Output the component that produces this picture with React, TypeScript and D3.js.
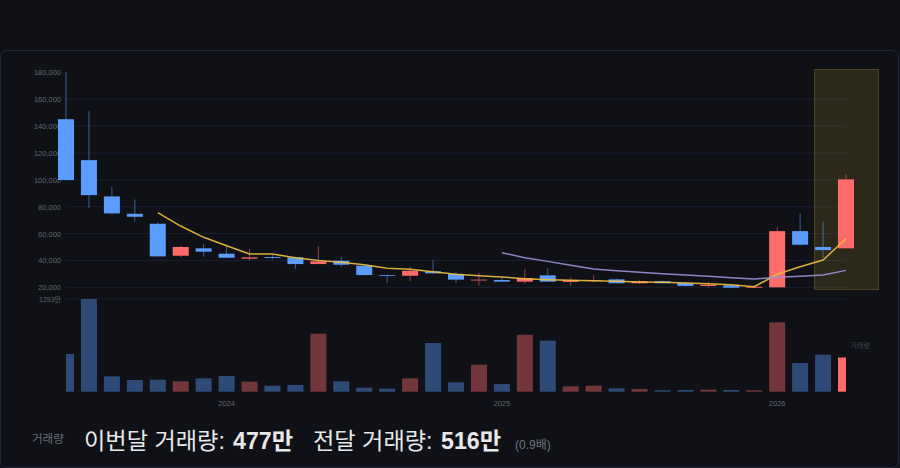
import React, {useRef, useEffect} from "react";
import * as d3 from "d3";

const months = ["2023-06","2023-07","2023-08","2023-09","2023-10","2023-11","2023-12","2024-01","2024-02","2024-03","2024-04","2024-05","2024-06","2024-07","2024-08","2024-09","2024-10","2024-11","2024-12","2025-01","2025-02","2025-03","2025-04","2025-05","2025-06","2025-07","2025-08","2025-09","2025-10","2025-11","2025-12","2026-01","2026-02","2026-03","2026-04"];
// 양봉이면 open < close
const opens = [145100,114600,87600,74700,67300,43500,49000,45000,41300,42500,42300,37300,39800,36100,29000,28600,31900,29900,25200,25400,24200,28900,24000,24700,25900,23000,24500,23200,21000,21500,19700,20000,61800,50000,49000];
const closes = [99800,88600,75000,72500,43000,50000,46500,42000,42300,41800,37300,39300,36800,29100,28900,32300,30400,25700,25700,24200,26900,24200,25200,25200,23000,24500,23000,21000,21900,19700,20400,61800,51700,47700,100300];
const highs = [180000,151300,94800,85400,68500,51000,52200,51700,48300,44200,42800,50700,42800,36100,29400,35300,40500,31600,30900,27400,33800,34300,27400,28900,26400,25200,25000,24000,24000,22200,21500,64800,75200,69000,104000];
const lows = [99800,79200,74300,69000,43000,42300,42800,42000,39800,40800,33800,37300,35100,29100,23000,24700,29900,23200,21200,24200,22700,24200,21200,23400,23000,22600,22800,20800,20000,19200,19500,20000,50900,41500,49000];
const volumes = [526,1293,214,163,167,144,186,219,140,84,93,809,144,56,42,186,679,130,377,107,795,712,74,84,47,37,19,23,28,23,19,967,400,516,477];
const ma5 = [75500,65600,57200,50900,44800,44800,42000,40000,38600,36800,34100,33400,31600,29700,28600,27700,26400,25700,25200,24900,24500,24000,23700,23200,22700,21900,20400,29700,35300,40300,56100];
const ma20 = [45700,42000,39300,36400,33600,32300,31200,30100,29100,28200,27100,26200,27400,28200,29100,32600];
const priceTicks = [20000,40000,60000,80000,100000,120000,140000,160000,180000];
const gridTicks = [20000,40000,60000,80000,100000,120000,140000,160000];

const UP = "#ff6b6b";
const DOWN = "#5b9dff";
const BG = "#0f1117";
const FONT = "'Liberation Sans', 'Noto Sans CJK KR', sans-serif";

const App: React.FC = () => {
    const ref = useRef<SVGSVGElement>(null);

    useEffect(() => {
        if (!ref.current) return;
        const svg = d3.select(ref.current);
        svg.selectAll("*").remove();

        const x = d3.scalePoint<string>().domain(months).range([66, 846]);
        const y = d3.scaleLinear().domain([20000, 180000]).range([287.3, 72.3]);
        const yVol = d3.scaleLinear().domain([0, 1293]).range([391.7, 299]);
        const px = (i: number) => x(months[i]) as number;

        // 카드
        svg.append("rect")
            .attr("x", 0.5).attr("y", 50.5).attr("width", 898).attr("height", 417)
            .attr("rx", 6)
            .attr("fill", BG)
            .attr("stroke", "#242838");

        svg.append("defs").append("clipPath").attr("id", "vol-clip")
            .append("rect").attr("x", 66).attr("y", 290).attr("width", 780).attr("height", 110);

        // 그리드
        const grid = svg.append("g");
        grid.selectAll("line").data(gridTicks).join("line")
            .attr("x1", 66).attr("x2", 846)
            .attr("y1", d => y(d)).attr("y2", d => y(d))
            .attr("stroke", "#1a1e30");
        grid.append("line")
            .attr("x1", 66).attr("x2", 846)
            .attr("y1", yVol(1293)).attr("y2", yVol(1293))
            .attr("stroke", "#1a1e30");

        // 이번달 강조
        svg.append("rect")
            .attr("x", 814.5).attr("y", 69.5).attr("width", 64).attr("height", 220)
            .attr("fill", "#ffdc3c").attr("fill-opacity", 0.12)
            .attr("stroke", "#ffdc3c").attr("stroke-opacity", 0.2);

        // 가격 축
        svg.append("g").selectAll("text").data(priceTicks).join("text")
            .attr("x", 61).attr("y", d => y(d) + 3)
            .attr("text-anchor", "end")
            .attr("font-size", 7.5)
            .attr("fill", "#63656d")
            .text(d => d3.format(",")(d));
        svg.append("text")
            .attr("x", 61).attr("y", yVol(1293) + 3)
            .attr("text-anchor", "end")
            .attr("font-size", 7)
            .attr("fill", "#63656d")
            .text("1293만");

        // 캔들
        const candles = svg.append("g");
        months.forEach((m, i) => {
            const color = closes[i] >= opens[i] ? UP : DOWN;
            candles.append("line")
                .attr("x1", px(i)).attr("x2", px(i))
                .attr("y1", y(highs[i])).attr("y2", y(lows[i]))
                .attr("stroke", color)
                .attr("stroke-opacity", 0.55);
            const top = y(Math.max(opens[i], closes[i]));
            const bottom = y(Math.min(opens[i], closes[i]));
            candles.append("rect")
                .attr("x", px(i) - 8).attr("width", 16)
                .attr("y", top).attr("height", Math.max(bottom - top, 0.8))
                .attr("fill", color);
        });

        // 이동평균선
        const line = d3.line<number>()
            .x((d, i) => i)
            .y(d => y(d));
        svg.append("path")
            .attr("d", line.x((d, i) => px(i + 4))(ma5))
            .attr("fill", "none")
            .attr("stroke", "#f0bf3c")
            .attr("stroke-width", 1.5)
            .attr("stroke-opacity", 0.9);
        svg.append("path")
            .attr("d", line.x((d, i) => px(i + 19))(ma20))
            .attr("fill", "none")
            .attr("stroke", "#9f90dc")
            .attr("stroke-width", 1.5)
            .attr("stroke-opacity", 0.9);

        // 거래량
        svg.append("g").attr("clip-path", "url(#vol-clip)")
            .selectAll("rect").data(volumes).join("rect")
            .attr("x", (d, i) => px(i) - 8).attr("width", 16)
            .attr("y", d => yVol(d)).attr("height", d => yVol(0) - yVol(d))
            .attr("fill", (d, i) => closes[i] >= opens[i] ? UP : DOWN)
            .attr("fill-opacity", (d, i) => i === months.length - 1 ? 1 : 0.42);

        // 연도 라벨
        svg.append("g").selectAll("text")
            .data(months.filter(m => m.endsWith("-01")))
            .join("text")
            .attr("x", d => x(d) as number).attr("y", 405.5)
            .attr("text-anchor", "middle")
            .attr("font-size", 7.5)
            .attr("fill", "#63656d")
            .text(d => d.slice(0, 4));

        svg.append("text")
            .attr("x", 850.5).attr("y", 348)
            .attr("font-size", 7)
            .attr("fill", "#44464e")
            .text("거래량");

        // 하단 요약
        svg.append("text")
            .attr("x", 32).attr("y", 443)
            .attr("font-size", 11.5)
            .attr("fill", "#6c6e76")
            .text("거래량");
        const summary = svg.append("g")
            .attr("font-size", 23.2)
            .attr("fill", "#e8e8ea");
        summary.append("text").attr("x", 84).attr("y", 448.5).text("이번달 거래량:");
        summary.append("text").attr("x", 233).attr("y", 448.5).attr("font-weight", "bold").text("477만");
        summary.append("text").attr("x", 313).attr("y", 448.5).text("전달 거래량:");
        summary.append("text").attr("x", 441).attr("y", 448.5).attr("font-weight", "bold").text("516만");
        svg.append("text")
            .attr("x", 515).attr("y", 449)
            .attr("font-size", 12)
            .attr("fill", "#72747c")
            .text("(0.9배)");
    }, []);

    return <svg ref={ref} width={900} height={468}
                style={{position: "absolute", left: 0, top: 0, background: BG, fontFamily: FONT}}/>;
}

export default App;
